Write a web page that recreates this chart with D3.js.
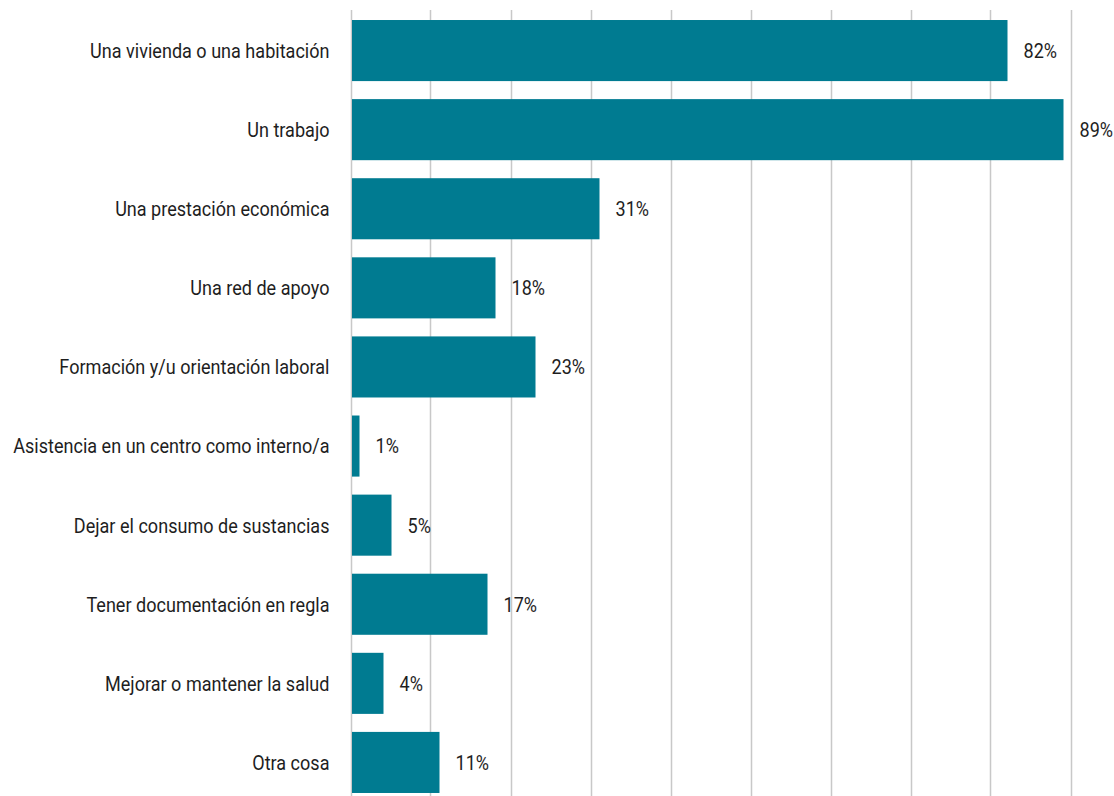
<!DOCTYPE html>
<html>
<head>
  <script src="https://d3js.org/d3.v7.min.js"></script>
  <style>
    body { margin: 0; background: #fff; }
    text { font-family: "Roboto", sans-serif; fill: #1e1e1e; }
  </style>
</head>
<body>
  <div id="chart"></div>
  <script>
    var categories = [
      "Una vivienda o una habitación",
      "Un trabajo",
      "Una prestación económica",
      "Una red de apoyo",
      "Formación y/u orientación laboral",
      "Asistencia en un centro como interno/a",
      "Dejar el consumo de sustancias",
      "Tener documentación en regla",
      "Mejorar o mantener la salud",
      "Otra cosa"
    ];
    var values = [82, 89, 31, 18, 23, 1, 5, 17, 4, 11];
    var gridTicks = [0, 10, 20, 30, 40, 50, 60, 70, 80, 90];

    var data = categories.map((c, i) => ({ name: c, value: values[i] }));

    var svg = d3.select("#chart")
                .append("svg")
                .attr("width", 1114)
                .attr("height", 796);

    var xScale = d3.scaleLinear()
                   .domain([0, 90])
                   .range([351.5, 1071.5]);

    var yScale = d3.scaleBand()
                   .domain(categories)
                   .range([11, 802])
                   .paddingInner(18 / 79)
                   .paddingOuter(9 / 79);

    // the original font is a condensed face; squeeze Roboto horizontally
    var squeeze = 0.86;

    // vertical gridlines
    svg.append("g")
       .selectAll("line")
       .data(gridTicks)
       .join("line")
       .attr("x1", d => Math.round(xScale(d)) - 0.5)
       .attr("x2", d => Math.round(xScale(d)) - 0.5)
       .attr("y1", 10)
       .attr("y2", 800)
       .attr("stroke", "#c8c8c8")
       .attr("stroke-width", 1.5);

    // bars
    svg.append("g")
       .selectAll("rect")
       .data(data)
       .join("rect")
       .attr("x", xScale(0) + 0.5)
       .attr("y", d => yScale(d.name))
       .attr("width", d => xScale(d.value) - xScale(0) - 0.5)
       .attr("height", yScale.bandwidth())
       .attr("fill", "#007b91");

    // category labels
    svg.append("g")
       .selectAll("text")
       .data(data)
       .join("text")
       .attr("transform", d => `translate(${xScale(0) - 22},${yScale(d.name) + yScale.bandwidth() / 2}) scale(${squeeze},1)`)
       .attr("dy", "0.35em")
       .attr("text-anchor", "end")
       .style("font-size", "21px")
       .text(d => d.name);

    // value labels
    svg.append("g")
       .selectAll("text")
       .data(data)
       .join("text")
       .attr("transform", d => `translate(${xScale(d.value) + 16},${yScale(d.name) + yScale.bandwidth() / 2}) scale(${squeeze},1)`)
       .attr("dy", "0.35em")
       .style("font-size", "21px")
       .text(d => d.value + "%");
  </script>
</body>
</html>
